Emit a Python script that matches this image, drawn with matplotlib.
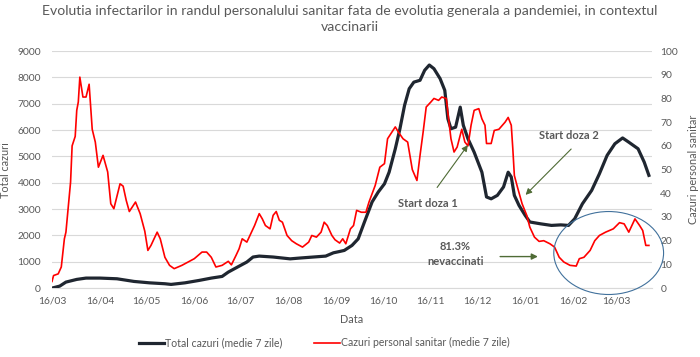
import matplotlib
matplotlib.use("Agg")
import matplotlib.pyplot as plt
import matplotlib.dates as mdates
from matplotlib.patches import Ellipse
import pandas as pd

plt.rcParams['font.family'] = ['Lato', 'DejaVu Sans']

start_date = "2020-03-16"

# Total cases (7-day mean), left axis
total_days = [0, 5, 9, 16, 22, 31, 42, 53, 63, 73, 77, 86, 95, 103, 110, 114, 120, 126, 130, 134,
              143, 154, 160, 169, 177, 182, 186, 189, 194, 198, 202, 207, 211, 215, 218, 222, 225,
              228, 231, 234, 238, 241, 244, 247, 251, 254, 256, 258, 261, 264, 266, 269, 273, 278,
              281, 284, 288, 292, 295, 297, 299, 302, 306, 309, 316, 323, 329, 334, 338, 343, 349,
              354, 359, 364, 369, 373, 379, 383, 386]
total_vals = [0, 76, 228, 330, 380, 380, 354, 253, 200, 165, 140, 200, 290, 380, 443, 608, 800, 990,
              1180, 1215, 1180, 1110, 1140, 1180, 1215, 1340, 1390, 1430, 1620, 1870, 2500, 3270,
              3650, 3960, 4400, 5290, 6050, 6940, 7570, 7820, 7890, 8270, 8470, 8330, 7950, 7510,
              6430, 6050, 6110, 6870, 6180, 5670, 5160, 4400, 3460, 3390, 3520, 3840, 4400, 4220,
              3520, 3140, 2760, 2510, 2440, 2380, 2400, 2380, 2630, 3200, 3710, 4340, 5040, 5480,
              5700, 5540, 5290, 4780, 4280]

# Health-worker cases (7-day mean), right axis
staff_days = [0, 1, 4, 6, 8, 9, 12, 13, 15, 16, 17, 18, 20, 22, 24, 26, 28, 30, 33, 36, 38, 40, 44,
              46, 48, 50, 54, 57, 60, 62, 64, 68, 70, 73, 76, 79, 84, 88, 92, 97, 100, 103, 106, 110,
              114, 116, 119, 121, 123, 126, 129, 131, 134, 136, 138, 141, 143, 145, 147, 149, 152,
              155, 158, 162, 166, 168, 171, 174, 176, 178, 181, 183, 186, 188, 190, 193, 195, 197,
              200, 203, 205, 209, 212, 215, 217, 222, 224, 227, 230, 233, 236, 238, 240, 242, 245,
              247, 250, 252, 255, 256, 258, 260, 262, 265, 267, 269, 271, 273, 276, 278, 280, 281,
              284, 286, 289, 293, 295, 297, 298, 299, 301, 304, 307, 309, 312, 315, 318, 322, 325,
              328, 331, 335, 339, 341, 344, 348, 351, 354, 358, 363, 367, 370, 373, 377, 380, 382,
              384, 386]
staff_vals = [2.8, 5.3, 6, 8.9, 20.8, 23.6, 44.7, 60, 64, 75, 78.5, 89, 80.6, 80.6, 86, 67, 61.6,
              51, 56, 49, 35.6, 33.5, 44, 43, 37, 32.3, 36.3, 31.4, 24, 15.9, 18, 23.6, 20.8, 13,
              9.6, 8.2, 9.6, 11, 12.4, 15.2, 15.2, 13, 8.9, 9.6, 11.3, 9.8, 13.8, 16.6, 20.8, 19.4,
              23.6, 26.4, 31.4, 29.2, 26.4, 25, 30.7, 32.3, 28.6, 27.8, 22.2, 20, 18.7, 17.3, 19.4,
              22.2, 21.5, 23.6, 27.8, 26.4, 22.2, 20.4, 19, 20.8, 18.7, 25, 26.4, 32.8, 32, 32,
              36.3, 43.3, 51, 52.5, 63, 68, 65.8, 63, 61.6, 50, 45.4, 56, 65.8, 76.4, 78.5, 80,
              79.2, 80.6, 80, 74, 63, 57.4, 59.5, 67, 61.6, 60, 68.7, 75, 75.7, 71.4, 68.7, 61, 61,
              66.5, 67, 70, 72, 68.7, 58.8, 47.5, 42.6, 35.6, 30.7, 25.7, 21.5, 19.7, 20, 18.7,
              17.3, 13, 11, 9.6, 9.3, 12.4, 13, 15.9, 20, 22.2, 23.6, 25, 27.6, 27.1, 23.6, 29.2,
              26.4, 24.3, 18, 18]

tick_dates = ["2020-03-16", "2020-04-16", "2020-05-16", "2020-06-16", "2020-07-16", "2020-08-16",
              "2020-09-16", "2020-10-16", "2020-11-16", "2020-12-16", "2021-01-16", "2021-02-16",
              "2021-03-16"]
tick_labels = ["16/03", "16/04", "16/05", "16/06", "16/07", "16/08", "16/09", "16/10", "16/11",
               "16/12", "16/01", "16/02", "16/03"]

title = ("Evolutia infectarilor in randul personalului sanitar fata de evolutia generala a pandemiei, "
         "in contextul\nvaccinarii")
label_total = "Total cazuri (medie 7 zile)"
label_staff = "Cazuri personal sanitar (medie 7 zile)"

base = pd.Timestamp(start_date)
t_dates = base + pd.to_timedelta(total_days, unit="D")
s_dates = base + pd.to_timedelta(staff_days, unit="D")

grey = "#595959"
green = "#4f6b35"

fig = plt.figure(figsize=(7, 3.57), dpi=100)
ax = fig.add_axes([0.0743, 0.193, 0.8571, 0.664])
ax2 = ax.twinx()

l1, = ax.plot(t_dates, total_vals, color="#1f2630", lw=2.3, label=label_total, zorder=3)
l2, = ax2.plot(s_dates, staff_vals, color="#ff0000", lw=1.2, label=label_staff, zorder=3)

ax.set_ylim(0, 9000)
ax.set_yticks(range(0, 9001, 1000))
ax2.set_ylim(0, 100)
ax2.set_yticks(range(0, 101, 10))
ax.set_xlim(pd.Timestamp("2020-03-16"), pd.Timestamp("2021-04-08"))
ax.set_xticks(pd.to_datetime(tick_dates))
ax.set_xticklabels(tick_labels)

ax.grid(axis="y", color="#d9d9d9", lw=0.8)
ax.set_axisbelow(True)
for a in (ax, ax2):
    for s in a.spines.values():
        s.set_visible(False)
    a.tick_params(length=0, labelsize=7.4, labelcolor=grey)
ax.spines["bottom"].set_visible(True)
ax.spines["bottom"].set_color("#d9d9d9")
ax.tick_params(axis="x", pad=6)
ax.tick_params(axis="y", pad=8)
ax2.tick_params(axis="y", pad=6)

ax.set_ylabel("Total cazuri", fontsize=7.8, color=grey)
ax.yaxis.set_label_coords(-0.068, 0.5)
ax2.set_ylabel("Cazuri personal sanitar", fontsize=7.8, color=grey)
ax2.yaxis.set_label_coords(1.06, 0.5)
ax.set_xlabel("Data", fontsize=7.8, color=grey, labelpad=6)

fig.suptitle(title, fontsize=10.1, color=grey, y=0.985, linespacing=1.35)

bold = dict(fontsize=8, fontweight="bold", color=grey, ha="center", va="center")
ax2.annotate("", xy=(pd.Timestamp("2020-12-11"), 61.3), xytext=(pd.Timestamp("2020-11-19"), 41.5),
             arrowprops=dict(arrowstyle="-|>", color=green, lw=0.8, mutation_scale=9))
ax2.text(pd.Timestamp("2020-11-14"), 35.5, "Start doza 1", **bold)
ax2.annotate("", xy=(pd.Timestamp("2021-01-15"), 38.5), xytext=(pd.Timestamp("2021-02-16"), 59.5),
             arrowprops=dict(arrowstyle="-|>", color=green, lw=0.8, mutation_scale=9))
ax2.text(pd.Timestamp("2021-02-13"), 64.5, "Start doza 2", **bold)
ax2.annotate("", xy=(pd.Timestamp("2021-01-26"), 13.3), xytext=(pd.Timestamp("2020-12-29"), 13.3),
             arrowprops=dict(arrowstyle="-|>", color=green, lw=1.0, mutation_scale=9))
ax2.text(pd.Timestamp("2020-12-02"), 14.4, "81.3%\nnevaccinati", linespacing=1.5, **bold)

ell = Ellipse((mdates.date2num(pd.Timestamp("2021-03-11")), 14.8), width=71, height=35,
              fill=False, edgecolor="#41719c", lw=0.8, clip_on=False, zorder=4)
ax2.add_patch(ell)

fig.legend(handles=[l1, l2], loc="center", bbox_to_anchor=(0.463, 0.04), ncol=2, frameon=False,
           fontsize=7.6, labelcolor=grey, handlelength=2.4, handletextpad=0.1, columnspacing=3.0)

fig.savefig("out.png", dpi=100)
